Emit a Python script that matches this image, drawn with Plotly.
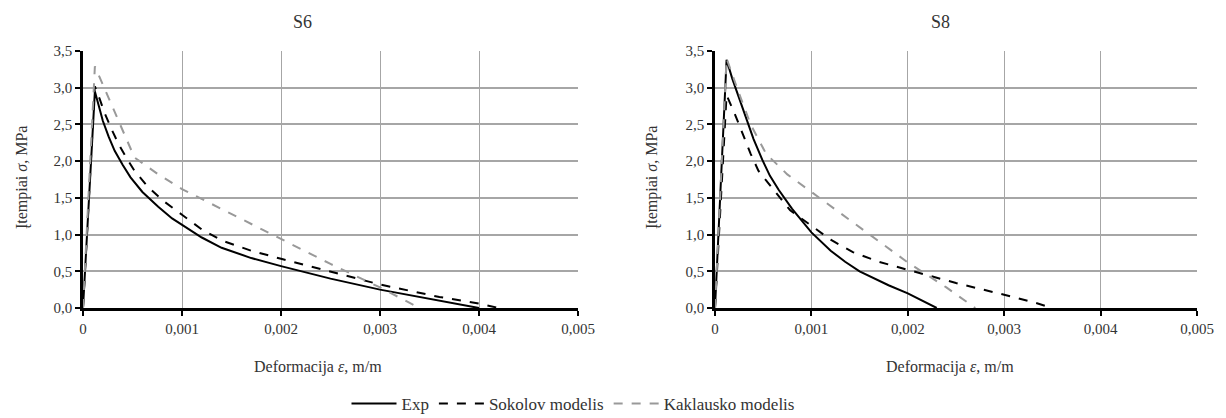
import plotly.graph_objects as go

# S6 data (strain m/m, stress MPa)
s6_exp_x = [0, 0.00012, 0.00016, 0.00020, 0.00026, 0.00032, 0.00040, 0.00048, 0.00060, 0.00076, 0.00090, 0.0010, 0.0012, 0.0014, 0.0017, 0.0020, 0.0025, 0.0030, 0.0035, 0.0038, 0.0040]
s6_exp_y = [0, 2.95, 2.75, 2.55, 2.33, 2.14, 1.95, 1.78, 1.58, 1.38, 1.22, 1.13, 0.96, 0.82, 0.68, 0.57, 0.40, 0.25, 0.12, 0.05, 0.0]
s6_sok_x = [0, 0.00012, 0.00017, 0.00022, 0.00029, 0.00036, 0.00044, 0.00052, 0.00065, 0.00080, 0.0010, 0.0012, 0.0014, 0.0017, 0.0020, 0.0025, 0.0030, 0.0036, 0.0040, 0.0042]
s6_sok_y = [0, 3.02, 2.84, 2.65, 2.43, 2.23, 2.04, 1.87, 1.66, 1.47, 1.27, 1.07, 0.92, 0.78, 0.67, 0.50, 0.32, 0.15, 0.06, 0.0]
s6_kak_x = [0, 0.00012, 0.00022, 0.00032, 0.00042, 0.00052, 0.00075, 0.0010, 0.0015, 0.0020, 0.0025, 0.0030, 0.0034]
s6_kak_y = [0, 3.29, 2.98, 2.68, 2.36, 2.05, 1.83, 1.62, 1.28, 0.94, 0.60, 0.28, 0.0]

# S8 data
s8_exp_x = [0, 0.00012, 0.00018, 0.00025, 0.00032, 0.00040, 0.00049, 0.00057, 0.00066, 0.00080, 0.0010, 0.0012, 0.00135, 0.0015, 0.0018, 0.0020, 0.0023]
s8_exp_y = [0, 3.38, 3.12, 2.85, 2.58, 2.30, 2.02, 1.80, 1.61, 1.35, 1.03, 0.78, 0.63, 0.50, 0.31, 0.20, 0.0]
s8_sok_x = [0, 0.00012, 0.00020, 0.00029, 0.00037, 0.00045, 0.00060, 0.00078, 0.0010, 0.0012, 0.00143, 0.0017, 0.0020, 0.0025, 0.0030, 0.0033, 0.0035]
s8_sok_y = [0, 2.90, 2.66, 2.37, 2.10, 1.87, 1.62, 1.33, 1.12, 0.93, 0.76, 0.63, 0.52, 0.34, 0.18, 0.08, 0.0]
s8_kak_x = [0, 0.00012, 0.00025, 0.00037, 0.00053, 0.00075, 0.0010, 0.0015, 0.0020, 0.0024, 0.0027]
s8_kak_y = [0, 3.40, 2.92, 2.50, 2.10, 1.82, 1.58, 1.10, 0.62, 0.28, 0.0]

x_ticks = [0, 0.001, 0.002, 0.003, 0.004, 0.005]
x_tick_labels = ["0", "0,001", "0,002", "0,003", "0,004", "0,005"]
y_ticks = [0, 0.5, 1.0, 1.5, 2.0, 2.5, 3.0, 3.5]
y_tick_labels = ["0,0", "0,5", "1,0", "1,5", "2,0", "2,5", "3,0", "3,5"]

names = ["Exp", "Sokolov modelis", "Kaklausko modelis"]
styles = [dict(color="black", width=2, dash="solid"),
          dict(color="black", width=2, dash="dash"),
          dict(color="#999999", width=2, dash="dash")]

FONT = "Liberation Serif"
TXT = "#333333"
W, H = 1226, 418
OFF = 8  # page body margin


def fx(px):
    return (px - OFF) / W


def fy(py):
    return 1 - (py - OFF) / H


fig = go.Figure()

series = [
    ("x", "y", [(s6_exp_x, s6_exp_y), (s6_sok_x, s6_sok_y), (s6_kak_x, s6_kak_y)], True),
    ("x2", "y2", [(s8_exp_x, s8_exp_y), (s8_sok_x, s8_sok_y), (s8_kak_x, s8_kak_y)], False),
]
for xa, ya, data, show in series:
    for i, (xs, ys) in enumerate(data):
        fig.add_trace(go.Scatter(x=xs, y=ys, mode="lines", name=names[i], line=styles[i],
                                 xaxis=xa, yaxis=ya, showlegend=show, legendgroup=names[i]))

ax_common = dict(range=[0, 0.005], tickvals=x_ticks, ticktext=x_tick_labels,
                 showgrid=True, gridcolor="#a6a6a6", gridwidth=1,
                 showline=True, linecolor="black", linewidth=2.5,
                 ticks="outside", ticklen=5, tickwidth=2, tickcolor="black",
                 zeroline=False, automargin=False,
                 tickfont=dict(family=FONT, size=15, color=TXT))
ay_common = dict(range=[0, 3.5], tickvals=y_ticks, ticktext=y_tick_labels,
                 showgrid=True, gridcolor="#a6a6a6", gridwidth=1.5,
                 showline=True, linecolor="black", linewidth=2.5,
                 ticks="outside", ticklen=5, tickwidth=2, tickcolor="black",
                 zeroline=False, automargin=False,
                 tickfont=dict(family=FONT, size=15, color=TXT))

fig.update_layout(
    width=W, height=H,
    margin=dict(l=0, r=0, t=0, b=0, pad=0),
    paper_bgcolor="white", plot_bgcolor="white",
    font=dict(family=FONT, size=15, color=TXT),
    xaxis=dict(domain=[fx(83), fx(578)], anchor="y", **ax_common),
    yaxis=dict(domain=[fy(308), fy(51)], anchor="x", **ay_common),
    xaxis2=dict(domain=[fx(715), fx(1197)], anchor="y2", **ax_common),
    yaxis2=dict(domain=[fy(308), fy(51)], anchor="x2", **ay_common),
    legend=dict(orientation="h", x=fx(573), xanchor="center", y=fy(404), yanchor="middle",
                font=dict(family=FONT, size=17, color=TXT), itemwidth=45,
                bgcolor="rgba(0,0,0,0)"),
    showlegend=True,
)

annos = [
    dict(text="S6", x=302, y=22, size=18, angle=0),
    dict(text="S8", x=940, y=22, size=18, angle=0),
    dict(text="Deformacija <i>ε</i>, m/m", x=318, y=367, size=16, angle=0),
    dict(text="Deformacija <i>ε</i>, m/m", x=950, y=367, size=16, angle=0),
    dict(text="Įtempiai <i>σ</i>, MPa", x=22, y=178, size=16, angle=-90),
    dict(text="Įtempiai <i>σ</i>, MPa", x=652, y=178, size=16, angle=-90),
]
for a in annos:
    fig.add_annotation(text=a["text"], x=fx(a["x"]), y=fy(a["y"]), xref="paper", yref="paper",
                       showarrow=False, textangle=a["angle"], xanchor="center", yanchor="middle",
                       font=dict(family=FONT, size=a["size"], color=TXT))

fig.write_html("out.html")
